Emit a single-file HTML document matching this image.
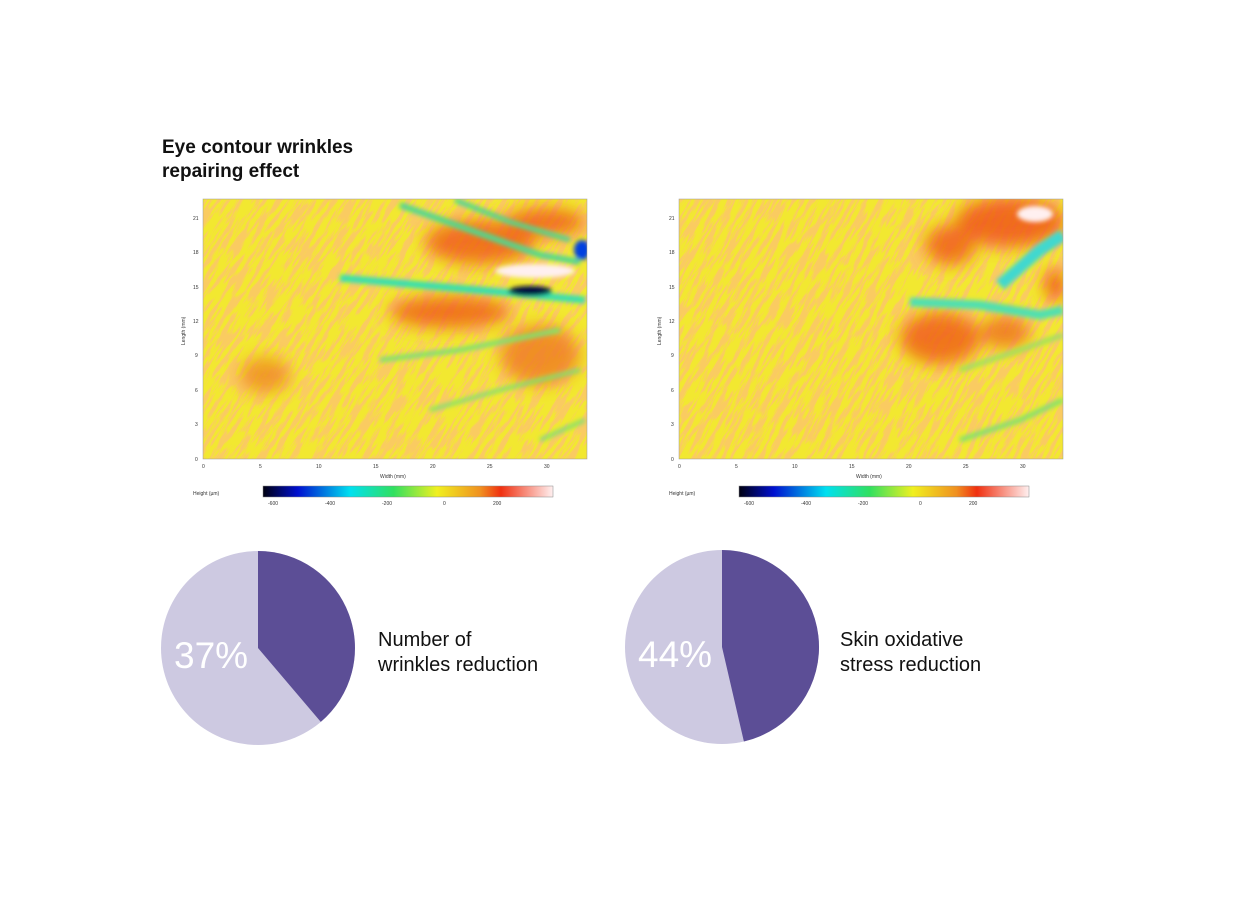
<!DOCTYPE html>
<html><head><meta charset="utf-8"><style>
html,body{margin:0;padding:0;background:#fff;}
body{width:1250px;height:900px;position:relative;overflow:hidden;font-family:"Liberation Sans",sans-serif;}
.t{position:absolute;color:#111;}
</style></head><body>
<div class="t" style="left:162px;top:136px;font-size:19px;font-weight:bold;line-height:24px;">Eye contour wrinkles<br>repairing effect</div>
<svg width="1250" height="900" style="position:absolute;left:0;top:0">
<defs>
<filter id="tex" x="-50%" y="-50%" width="200%" height="200%">
<feTurbulence type="fractalNoise" baseFrequency="0.035 0.25" numOctaves="3" seed="3"/>
<feColorMatrix type="matrix" values="0 0 0 0 0.96  0 0 0 0 0.6  0 0 0 0 0.12  7 0 0 0 -3.1"/>
</filter>
<filter id="tex2" x="-50%" y="-50%" width="200%" height="200%">
<feTurbulence type="fractalNoise" baseFrequency="0.035 0.25" numOctaves="3" seed="9"/>
<feColorMatrix type="matrix" values="0 0 0 0 0.96  0 0 0 0 0.6  0 0 0 0 0.12  7 0 0 0 -3.1"/>
</filter>
<filter id="bl" x="-50%" y="-50%" width="200%" height="200%"><feGaussianBlur stdDeviation="8"/></filter>
<filter id="bl2" x="-50%" y="-50%" width="200%" height="200%"><feGaussianBlur stdDeviation="2.5"/></filter>
<linearGradient id="cb" x1="0" x2="1">
<stop offset="0" stop-color="#000010"/><stop offset="0.12" stop-color="#0010d0"/><stop offset="0.3" stop-color="#00e0f0"/><stop offset="0.45" stop-color="#30e060"/><stop offset="0.6" stop-color="#f0f020"/><stop offset="0.75" stop-color="#f09020"/><stop offset="0.82" stop-color="#f03010"/><stop offset="1" stop-color="#fff0f0"/>
</linearGradient>
<clipPath id="c1"><rect x="203" y="199" width="384" height="260"/></clipPath>
<clipPath id="c2"><rect x="679" y="199" width="384" height="260"/></clipPath>
</defs>

<g clip-path="url(#c1)">
<rect x="203" y="199" width="384" height="260" fill="#f2e830"/>
<g transform="rotate(-58 395 329)"><rect x="150" y="80" width="500" height="500" filter="url(#tex)"/></g>
<g filter="url(#bl)" opacity="0.8">
<ellipse cx="480" cy="242" rx="55" ry="22" fill="#f05a18"/>
<ellipse cx="545" cy="222" rx="40" ry="14" fill="#f05a18"/>
<ellipse cx="450" cy="312" rx="60" ry="16" fill="#f05a18"/>
<ellipse cx="540" cy="355" rx="40" ry="30" fill="#f07a20"/>
<ellipse cx="265" cy="375" rx="25" ry="18" fill="#f08a20"/>
</g>
<g filter="url(#bl2)">
<path d="M400 205 L470 230 L540 255 L580 262" stroke="#50d890" stroke-width="6" fill="none"/>
<path d="M455 200 L510 222 L570 240" stroke="#50d890" stroke-width="5" fill="none"/>
<path d="M340 278 L420 285 L500 292 L585 300" stroke="#30e0b0" stroke-width="7" fill="none"/>
<path d="M380 360 L460 350 L560 330" stroke="#80e070" stroke-width="5" fill="none"/>
<path d="M430 410 L500 390 L580 370" stroke="#80e070" stroke-width="4" fill="none"/>
<path d="M540 440 L585 420" stroke="#80e070" stroke-width="4" fill="none"/>
<ellipse cx="535" cy="271" rx="40" ry="7" fill="#fff0f0"/>
<ellipse cx="530" cy="291" rx="22" ry="5" fill="#001040"/>
<ellipse cx="582" cy="250" rx="8" ry="10" fill="#0040e0"/>
</g>
</g>
<rect x="203" y="199" width="384" height="260" fill="none" stroke="#999" stroke-width="0.5"/>

<g clip-path="url(#c2)">
<rect x="679" y="199" width="384" height="260" fill="#f2e830"/>
<g transform="rotate(-60 871 329)"><rect x="626" y="80" width="500" height="500" filter="url(#tex2)"/></g>
<g filter="url(#bl)" opacity="0.8">
<ellipse cx="1010" cy="222" rx="55" ry="25" fill="#f05018"/>
<ellipse cx="950" cy="245" rx="25" ry="20" fill="#f05a18"/>
<ellipse cx="940" cy="338" rx="40" ry="26" fill="#f05a18"/>
<ellipse cx="1005" cy="332" rx="25" ry="16" fill="#f06a20"/>
<ellipse cx="1055" cy="285" rx="10" ry="16" fill="#f04010"/>
</g>
<g filter="url(#bl2)">
<path d="M1000 285 L1040 250 L1063 235" stroke="#40d8d0" stroke-width="12" fill="none"/>
<path d="M910 302 L980 305 L1040 315 L1063 310" stroke="#50e0b0" stroke-width="9" fill="none"/>
<path d="M960 370 L1020 350 L1063 335" stroke="#a0e060" stroke-width="5" fill="none"/>
<path d="M960 440 L1020 420 L1063 400" stroke="#80e070" stroke-width="5" fill="none"/>
<ellipse cx="1035" cy="214" rx="18" ry="8" fill="#fff0f0"/>
</g>
</g>
<rect x="679" y="199" width="384" height="260" fill="none" stroke="#999" stroke-width="0.5"/>

<g font-size="5" fill="#333" font-family="Liberation Sans">
<text x="193" y="220">21</text><text x="193" y="254">18</text><text x="193" y="289">15</text><text x="193" y="323">12</text><text x="195" y="357">9</text><text x="195" y="392">6</text><text x="195" y="426">3</text><text x="195" y="461">0</text>
<text x="202" y="468">0</text><text x="259" y="468">5</text><text x="316" y="468">10</text><text x="373" y="468">15</text><text x="430" y="468">20</text><text x="487" y="468">25</text><text x="544" y="468">30</text>
<text x="380" y="478">Width (mm)</text>
<text x="185" y="345" transform="rotate(-90 185 345)">Length (mm)</text>
<text x="193" y="495">Height (µm)</text>
<text x="268" y="505">-600</text><text x="325" y="505">-400</text><text x="382" y="505">-200</text><text x="443" y="505">0</text><text x="493" y="505">200</text>
<text x="669" y="220">21</text><text x="669" y="254">18</text><text x="669" y="289">15</text><text x="669" y="323">12</text><text x="671" y="357">9</text><text x="671" y="392">6</text><text x="671" y="426">3</text><text x="671" y="461">0</text>
<text x="678" y="468">0</text><text x="735" y="468">5</text><text x="792" y="468">10</text><text x="849" y="468">15</text><text x="906" y="468">20</text><text x="963" y="468">25</text><text x="1020" y="468">30</text>
<text x="856" y="478">Width (mm)</text>
<text x="661" y="345" transform="rotate(-90 661 345)">Length (mm)</text>
<text x="669" y="495">Height (µm)</text>
<text x="744" y="505">-600</text><text x="801" y="505">-400</text><text x="858" y="505">-200</text><text x="919" y="505">0</text><text x="969" y="505">200</text>
</g>
<rect x="263" y="486" width="290" height="11" fill="url(#cb)" stroke="#888" stroke-width="0.5"/>
<rect x="739" y="486" width="290" height="11" fill="url(#cb)" stroke="#888" stroke-width="0.5"/>

<circle cx="258" cy="648" r="97" fill="#cdc9e1"/>
<path d="M258 648 L258 551 A97 97 0 0 1 320.8 721.9 Z" fill="#5c4e96"/>
<circle cx="722" cy="647" r="97" fill="#cdc9e1"/>
<path d="M722 647 L722 550 A97 97 0 0 1 743.9 741.5 Z" fill="#5c4e96"/>
<g font-family="Liberation Sans" font-size="37" fill="#fff"><text x="174" y="668">37%</text><text x="638" y="667">44%</text></g>
<g font-family="Liberation Sans" font-size="20" fill="#111">
<text x="378" y="646">Number of</text><text x="378" y="671">wrinkles reduction</text>
<text x="840" y="646">Skin oxidative</text><text x="840" y="671">stress reduction</text>
</g>
</svg>
</body></html>
